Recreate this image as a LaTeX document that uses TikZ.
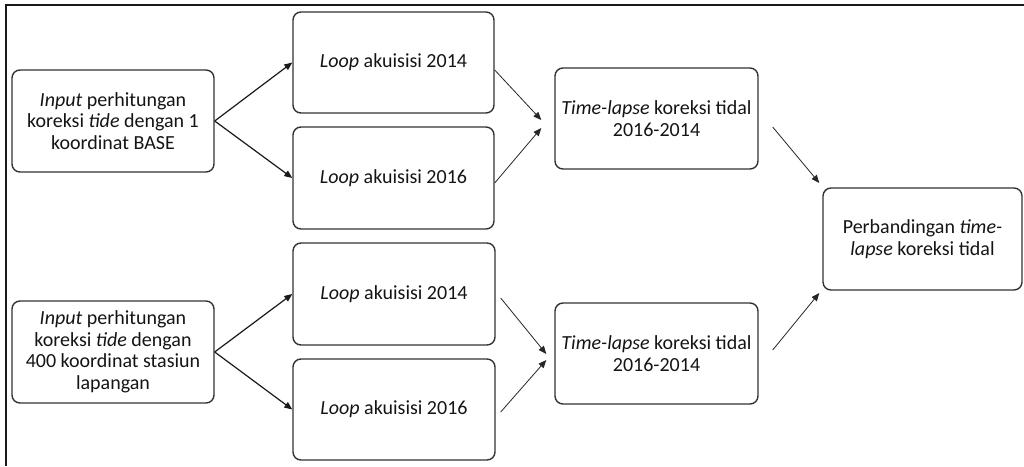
\documentclass[tikz,border=0pt]{standalone}
\usepackage{fontspec}
\setmainfont{Carlito}
\usetikzlibrary{arrows.meta,calc}
\begin{document}
\begin{tikzpicture}[x=1pt,y=-1pt,
  box/.style={draw=black!80,line width=1.4pt,rounded corners=8pt,align=center,
    inner sep=0pt,font=\fontsize{20}{21.5}\selectfont,text=black!92},
  wbox/.style={box,minimum width=202pt,minimum height=102pt},
  arr/.style={-{Triangle[length=8pt,width=6.5pt]},line width=1.2pt,black!90},
  tarr/.style={-{Triangle[length=8pt,width=6.5pt]},line width=0.8pt,black!85}]
\useasboundingbox (0,0) rectangle (1024,466);
\draw[line width=2pt,black!90] (5.5,466) -- (5.5,4.5) -- (1024,4.5);
\node[wbox] (A1) at (113,121) {\textit{Input} perhitungan\\koreksi \textit{tide} dengan 1\\koordinat BASE};
\node[wbox] (A2) at (113,352) {\textit{Input} perhitungan\\koreksi \textit{tide} dengan\\400 koordinat stasiun\\lapangan};
\node[box,minimum width=201pt,minimum height=101pt] (L1) at (393.5,62.5) {\textit{Loop} akuisisi 2014};
\node[box,minimum width=201pt,minimum height=102pt] (L2) at (393.5,178) {\textit{Loop} akuisisi 2016};
\node[box,minimum width=202pt,minimum height=102pt] (L3) at (394,294) {\textit{Loop} akuisisi 2014};
\node[box,minimum width=202pt,minimum height=101pt] (L4) at (394,409.5) {\textit{Loop} akuisisi 2016};
\node[box,minimum width=203pt,minimum height=101pt] (T1) at (656.5,118.5) {\textit{Time-lapse} koreksi tidal\\2016-2014};
\node[box,minimum width=203pt,minimum height=101pt] (T2) at (656.5,353.5) {\textit{Time-lapse} koreksi tidal\\2016-2014};
\node[box,minimum width=199pt,minimum height=102pt] (P) at (922.5,239) {Perbandingan \textit{time-}\\\textit{lapse} koreksi tidal};
\draw[arr] (A1.east) -- (L1.west);
\draw[arr] (A1.east) -- (L2.west);
\draw[arr] (A2.east) -- (L3.west);
\draw[arr] (A2.east) -- (L4.west);
\draw[tarr] ($(L1.east)+(0,7.5)$) -- ($(T1.west)+(-13,1.5)$);
\draw[tarr] ($(L2.east)+(0,5)$) -- ($(T1.west)+(-13,9.5)$);
\draw[tarr] ($(L3.east)+(5,4)$) -- ($(T2.west)+(-8,0.5)$);
\draw[tarr] ($(L4.east)+(5,2.5)$) -- ($(T2.west)+(-8,6.5)$);
\draw[tarr] ($(T1.east)+(14,8.5)$) -- ($(P.west)+(-3,-56)$);
\draw[tarr] ($(T2.east)+(14,-3.5)$) -- ($(P.west)+(-3,54)$);
\end{tikzpicture}
\end{document}
